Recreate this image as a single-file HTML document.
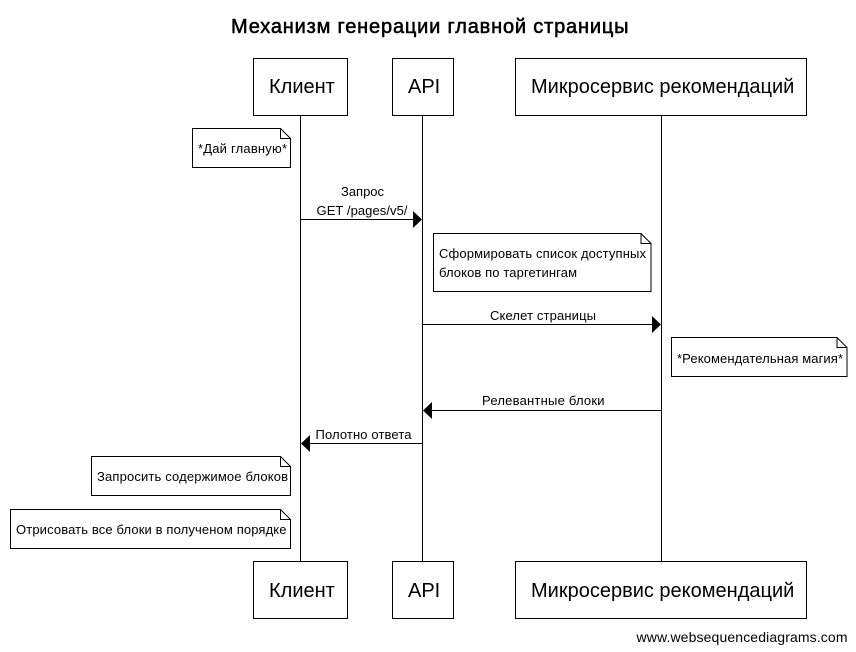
<!DOCTYPE html>
<html><head><meta charset="utf-8"><style>
html,body{margin:0;padding:0;background:#fff}
svg{display:block}
text{font-family:"Liberation Sans",sans-serif;fill:#000}
.a{font-size:20px}.n{font-size:13px}
rect,.nt{fill:#fff;stroke:#000;stroke-width:1}
.l{stroke:#000;stroke-width:1;fill:none}
</style></head><body>
<svg width="856" height="652" viewBox="0 0 856 652" xmlns="http://www.w3.org/2000/svg">
<rect x="0" y="0" width="856" height="652" style="stroke:none"/>
<text x="231" y="33" textLength="397.5" style="font-size:20px;stroke:#000;stroke-width:.55">Механизм генерации главной страницы</text>

<path class="l" d="M300.5 115V561M422.5 115V561M661.5 115V561"/>

<rect x="253.5" y="58.5" width="94" height="57"/>
<rect x="392.5" y="58.5" width="61" height="57"/>
<rect x="515.5" y="58.5" width="291" height="57"/>
<text class="a" x="269" y="93">Клиент</text>
<text class="a" x="408" y="93">API</text>
<text class="a" x="531" y="93">Микросервис рекомендаций</text>

<rect x="253.5" y="561.5" width="94" height="57"/>
<rect x="392.5" y="561.5" width="61" height="57"/>
<rect x="515.5" y="561.5" width="291" height="57"/>
<text class="a" x="269" y="597">Клиент</text>
<text class="a" x="408" y="597">API</text>
<text class="a" x="531" y="597">Микросервис рекомендаций</text>

<path class="nt" d="M192.5 128.5H280.5L290.5 138.5V167.5H192.5Z"/><path class="l" d="M280.5 128.5V138.5H290.5"/>
<text class="n" x="198" y="153" textLength="89">*Дай главную*</text>

<text class="n" x="341" y="196" textLength="43">Запрос</text>
<text class="n" x="316.5" y="215" textLength="91">GET /pages/v5/</text>
<path class="l" d="M301 219.5H414"/><path d="M413 211L422 219.5L413 228Z" fill="#000"/>

<path class="nt" d="M433.5 233.5H641L651 243.5V291.5H433.5Z"/><path class="l" d="M641 233.5V243.5H651"/>
<text class="n" x="439" y="258" textLength="207">Сформировать список доступных</text>
<text class="n" x="439" y="277" textLength="138">блоков по таргетингам</text>

<text class="n" x="490" y="320" textLength="106">Скелет страницы</text>
<path class="l" d="M423 324.5H653"/><path d="M652 316L661 324.5L652 333Z" fill="#000"/>

<path class="nt" d="M671.5 337.5H837L847 347.5V376.5H671.5Z"/><path class="l" d="M837 337.5V347.5H847"/>
<text class="n" x="677" y="363" textLength="166">*Рекомендательная магия*</text>

<text class="n" x="482" y="405" textLength="122.5">Релевантные блоки</text>
<path class="l" d="M661 410.5H431"/><path d="M432 402L423 410.5L432 419Z" fill="#000"/>

<text class="n" x="315.5" y="439" textLength="96">Полотно ответа</text>
<path class="l" d="M422 443.5H309"/><path d="M310 435L301 443.5L310 452Z" fill="#000"/>

<path class="nt" d="M91.5 456.5H280.5L290.5 466.5V495.5H91.5Z"/><path class="l" d="M280.5 456.5V466.5H290.5"/>
<text class="n" x="97" y="481" textLength="191">Запросить содержимое блоков</text>

<path class="nt" d="M10.5 509.5H280.5L290.5 519.5V548.5H10.5Z"/><path class="l" d="M280.5 509.5V519.5H290.5"/>
<text class="n" x="16" y="534" textLength="270.5">Отрисовать все блоки в полученом порядке</text>

<text x="636.5" y="642" textLength="211" style="font-size:14px">www.websequencediagrams.com</text>
</svg>
</body></html>
